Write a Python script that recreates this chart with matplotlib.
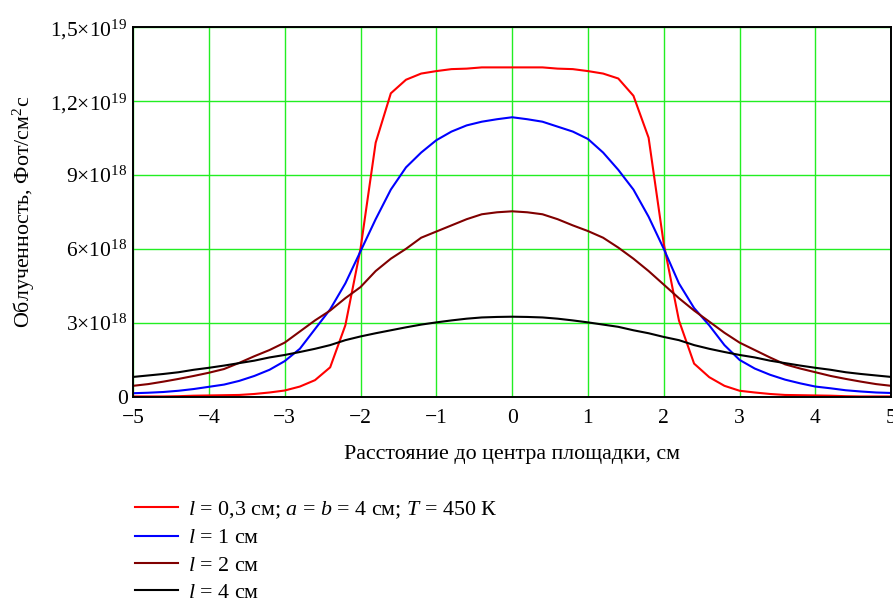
import numpy as np
import matplotlib
matplotlib.use("Agg")
import matplotlib.pyplot as plt
from matplotlib.ticker import FixedLocator, FuncFormatter

plt.rcParams['font.family'] = ['Liberation Serif', 'DejaVu Serif']
plt.rcParams['mathtext.fontset'] = 'custom'
plt.rcParams['mathtext.rm'] = 'Liberation Serif'
plt.rcParams['mathtext.it'] = 'Liberation Serif:italic'

# distance from the centre, cm (step 0.2)
x = np.linspace(-5, 5, 51)

# irradiance, units of 1e18 photons/cm^2 s
red_03 = [0.02, 0.02, 0.02, 0.03, 0.05, 0.06, 0.07, 0.08, 0.12, 0.18,
          0.26, 0.42, 0.68, 1.2, 2.9, 6.0, 10.3, 12.3, 12.85, 13.1,
          13.2, 13.28, 13.3, 13.35, 13.35, 13.35, 13.35, 13.35, 13.3, 13.28,
          13.2, 13.1, 12.9, 12.2, 10.5, 6.2, 3.1, 1.35, 0.8, 0.45,
          0.25, 0.18, 0.12, 0.08, 0.07, 0.06, 0.05, 0.03, 0.02, 0.02, 0.02]
blue_1 = [0.15, 0.17, 0.2, 0.25, 0.32, 0.41, 0.5, 0.65, 0.85, 1.1,
          1.45, 1.95, 2.75, 3.55, 4.6, 5.9, 7.2, 8.4, 9.3, 9.9,
          10.4, 10.75, 11.0, 11.15, 11.25, 11.33, 11.25, 11.15, 10.95, 10.75,
          10.45, 9.9, 9.2, 8.4, 7.3, 6.0, 4.6, 3.6, 2.9, 2.1,
          1.5, 1.15, 0.9, 0.7, 0.55, 0.42, 0.35, 0.27, 0.22, 0.18, 0.16]
dred_2 = [0.45, 0.52, 0.62, 0.73, 0.85, 0.98, 1.13, 1.38, 1.65, 1.9,
          2.2, 2.65, 3.1, 3.5, 4.0, 4.45, 5.1, 5.6, 6.0, 6.45,
          6.7, 6.95, 7.2, 7.4, 7.48, 7.52, 7.48, 7.4, 7.2, 6.95,
          6.72, 6.45, 6.05, 5.6, 5.1, 4.55, 4.0, 3.5, 3.05, 2.6,
          2.2, 1.9, 1.6, 1.32, 1.15, 1.0, 0.85, 0.73, 0.62, 0.52, 0.45]
black_4 = [0.81, 0.87, 0.93, 1.0, 1.1, 1.18, 1.27, 1.37, 1.47, 1.6,
           1.7, 1.82, 1.95, 2.1, 2.3, 2.45, 2.58, 2.7, 2.82, 2.93,
           3.02, 3.1, 3.17, 3.22, 3.24, 3.25, 3.24, 3.22, 3.17, 3.1,
           3.02, 2.93, 2.84, 2.7, 2.58, 2.43, 2.3, 2.1, 1.95, 1.82,
           1.7, 1.6, 1.47, 1.37, 1.27, 1.18, 1.1, 1.0, 0.93, 0.87, 0.81]

labels = [r"$l$ = 0,3 см; $a$ = $b$ = 4 см; $T$ = 450 К",
          r"$l$ = 1 см", r"$l$ = 2 см", r"$l$ = 4 см"]
colors = ["#ff0000", "#0000ff", "#800000", "#000000"]
y_ticks = [0, 3e18, 6e18, 9e18, 1.2e19, 1.5e19]


def sci_label(v, pos):
    if v == 0:
        return "0"
    exp = int(np.floor(np.log10(v)))
    mant = v / 10 ** exp
    m = ("%g" % round(mant, 2)).replace(".", ",")
    return m + r"×10$^{%d}$" % exp


fig = plt.figure(figsize=(8.93, 6.06), dpi=100)
ax = fig.add_axes([0.149, 0.345, 0.849, 0.611])

for ys, c, lab in zip([red_03, blue_1, dred_2, black_4], colors, labels):
    ax.plot(x, np.array(ys) * 1e18, color=c, lw=1.5, label=lab)

ax.set_xlim(-5, 5)
ax.set_ylim(0, 1.5e19)
ax.xaxis.set_major_locator(FixedLocator(np.arange(-5, 6, 1)))
ax.yaxis.set_major_locator(FixedLocator(y_ticks))
ax.yaxis.set_major_formatter(FuncFormatter(sci_label))
ax.grid(True, color="#22ee22", lw=1.0)
ax.set_axisbelow(True)
ax.tick_params(length=0, labelsize=15.5)
ax.tick_params(axis="x", pad=9)
ax.tick_params(axis="y", pad=4)
for s in ax.spines.values():
    s.set_linewidth(1.4)
    s.set_color("black")

ax.set_xlabel("Расстояние до центра площадки, см", fontsize=15.8, labelpad=12)
ax.set_ylabel(r"Облученность, Фот/см$^2$с", fontsize=15.8, labelpad=10)

fig.legend(loc="upper left", bbox_to_anchor=(0.151, 0.176), frameon=False,
           fontsize=15.8, handlelength=1.95, handletextpad=0.45,
           labelspacing=0.32, borderaxespad=0, borderpad=0)

fig.savefig("out.png", dpi=100)
